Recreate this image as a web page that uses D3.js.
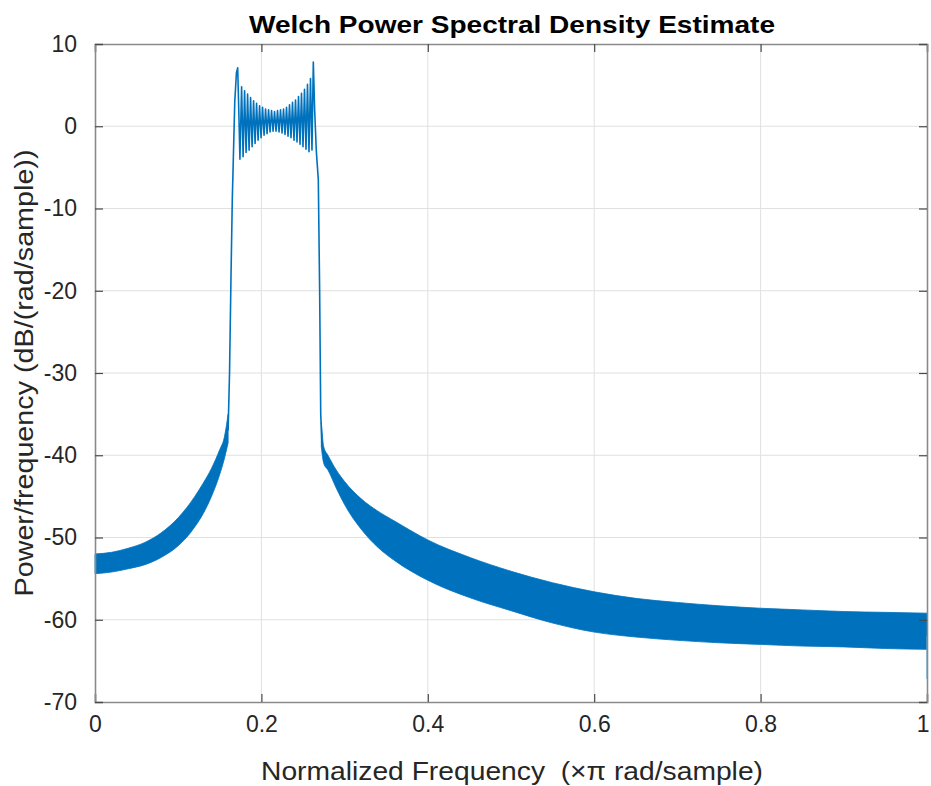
<!DOCTYPE html>
<html>
<head>
<meta charset="utf-8">
<script src="https://cdn.jsdelivr.net/npm/d3@7"></script>
<style>
  html, body { margin: 0; padding: 0; background: #fff; }
  svg { display: block; }
  text { font-family: "Liberation Sans", Arial, Helvetica, sans-serif; }
</style>
</head>
<body>
<svg id="chart" width="931" height="786"></svg>
<script>
// ---- data ----
const xTicks = [0, 0.2, 0.4, 0.6, 0.8, 1];
const xTickLabels = ["0", "0.2", "0.4", "0.6", "0.8", "1"];
const yTicks = [-70, -60, -50, -40, -30, -20, -10, 0, 10];
const yTickLabels = ["-70", "-60", "-50", "-40", "-30", "-20", "-10", "0", "10"];

// lower stopband: envelope of the dense ripple
const leftBandF  = [0, 0.02, 0.04, 0.06, 0.08, 0.10, 0.11, 0.12, 0.13, 0.14, 0.15, 0.155, 0.16];
const leftBandHi = [-52.0, -51.8, -51.3, -50.6, -49.4, -47.6, -46.4, -45.0, -43.4, -41.6, -39.3, -38.0, -35.0];
const leftBandLo = [-54.4, -54.2, -53.8, -53.3, -52.4, -51.0, -50.0, -48.7, -47.1, -45.0, -42.3, -40.6, -38.5];

// upper stopband: envelope of the dense ripple
const rightBandF  = [0.272, 0.275, 0.28, 0.29, 0.30, 0.32, 0.34, 0.36, 0.40, 0.45, 0.50, 0.55, 0.60, 0.65, 0.70, 0.75, 0.80, 0.85, 0.90, 0.95, 1.0];
const rightBandHi = [-36.0, -39.0, -40.0, -41.8, -43.2, -45.3, -46.8, -48.0, -50.3, -52.4, -54.1, -55.5, -56.6, -57.4, -57.9, -58.3, -58.6, -58.8, -59.0, -59.1, -59.2];
const rightBandLo = [-39.0, -41.0, -41.8, -44.0, -46.0, -49.0, -51.2, -52.8, -55.2, -57.3, -58.9, -60.4, -61.5, -62.1, -62.5, -62.8, -63.0, -63.2, -63.3, -63.5, -63.6];

// passband trace (edges + ripple)
const passF = [0.1600, 0.1617, 0.1635, 0.1650, 0.1660, 0.1680, 0.1700, 0.1715, 0.1728, 0.1742,
  0.1762, 0.1780, 0.1798, 0.1816, 0.1834, 0.1852, 0.1870, 0.1888, 0.1906, 0.1924,
  0.1942, 0.1960, 0.1978, 0.1996, 0.2014, 0.2032, 0.2050, 0.2068, 0.2086, 0.2104,
  0.2122, 0.2140, 0.2158, 0.2176, 0.2194, 0.2212, 0.2230, 0.2248, 0.2266, 0.2284,
  0.2302, 0.2320, 0.2338, 0.2356, 0.2374, 0.2392, 0.2410, 0.2428, 0.2446, 0.2464,
  0.2482, 0.2500, 0.2518, 0.2536, 0.2554, 0.2572, 0.2590, 0.2608, 0.2624, 0.2640,
  0.2660, 0.2684, 0.2700, 0.2713, 0.2730];
const passV = [-37.0, -30.0, -18.0, -9.0, -5.0, 3.0, 6.5, 7.1, 2.0, -4.0,
  4.8, -3.7, 4.3, -3.2, 3.9, -2.9, 3.5, -2.5, 3.1, -2.1,
  2.8, -1.7, 2.5, -1.4, 2.3, -1.1, 2.1, -0.9, 2.0, -0.7,
  1.9, -0.6, 1.8, -0.6, 1.9, -0.7, 2.0, -0.8, 2.1, -1.0,
  2.3, -1.2, 2.6, -1.4, 2.9, -1.7, 3.2, -1.9, 3.6, -2.2,
  4.0, -2.5, 4.5, -2.8, 5.1, -3.1, 5.8, -2.9, 7.8, 2.0,
  -3.0, -6.5, -20.0, -35.0, -39.0];

// tail at Nyquist
const tailF = [1.0, 1.0];
const tailV = [-62.0, -67.2];

const titleText = "Welch Power Spectral Density Estimate";
const xLabelText = "Normalized Frequency\u00A0\u00A0(\u00D7\u03C0 rad/sample)";
const yLabelText = "Power/frequency (dB/(rad/sample))";

// ---- layout ----
const margin = { left: 95, right: 931 - 927, top: 44, bottom: 786 - 702 };
const W = 931, H = 786;
const svg = d3.select("#chart");
const x = d3.scaleLinear().domain([0, 1]).range([margin.left, W - margin.right]);
const y = d3.scaleLinear().domain([-70, 10]).range([H - margin.bottom, margin.top]);
const lineColor = "#0072BD";

// grid
const grid = svg.append("g");
grid.selectAll("line.gx").data(xTicks.slice(1, -1)).enter().append("line")
  .attr("x1", d => x(d)).attr("x2", d => x(d))
  .attr("y1", y(-70)).attr("y2", y(10))
  .attr("stroke", "#e0e0e0").attr("stroke-width", 1);
grid.selectAll("line.gy").data(yTicks.slice(1, -1)).enter().append("line")
  .attr("x1", x(0)).attr("x2", x(1))
  .attr("y1", d => y(d)).attr("y2", d => y(d))
  .attr("stroke", "#e0e0e0").attr("stroke-width", 1);

// data
const plot = svg.append("g");
const leftBand = leftBandF.map((f, i) => ({ f, lo: leftBandLo[i], hi: leftBandHi[i] }));
const rightBand = rightBandF.map((f, i) => ({ f, lo: rightBandLo[i], hi: rightBandHi[i] }));
const area = d3.area().curve(d3.curveMonotoneX).x(d => x(d.f)).y0(d => y(d.lo)).y1(d => y(d.hi));
[leftBand, rightBand].forEach(b => {
  plot.append("path").attr("d", area(b))
    .attr("fill", lineColor).attr("stroke", lineColor).attr("stroke-width", 0.8);
});
const line = d3.line().x(d => x(d[0])).y(d => y(d[1]));
plot.append("path").attr("d", line(passF.map((f, i) => [f, passV[i]])))
  .attr("fill", "none").attr("stroke", lineColor).attr("stroke-width", 1.6)
  .attr("stroke-linejoin", "round");
plot.append("path").attr("d", line(tailF.map((f, i) => [f, tailV[i]])))
  .attr("fill", "none").attr("stroke", "#5aa8dc").attr("stroke-width", 1.2);

// axes box
const axisColor = "#262626";
const xAxB = svg.append("g").attr("transform", `translate(0,${y(-70)})`)
  .call(d3.axisBottom(x).tickValues(xTicks).tickSize(-8).tickFormat((d, i) => xTickLabels[i]).tickPadding(14));
const xAxT = svg.append("g").attr("transform", `translate(0,${y(10)})`)
  .call(d3.axisTop(x).tickValues(xTicks).tickSize(-8).tickFormat(""));
const yAxL = svg.append("g").attr("transform", `translate(${x(0)},0)`)
  .call(d3.axisLeft(y).tickValues(yTicks).tickSize(-8).tickFormat((d, i) => yTickLabels[i]).tickPadding(18));
const yAxR = svg.append("g").attr("transform", `translate(${x(1)},0)`)
  .call(d3.axisRight(y).tickValues(yTicks).tickSize(-8).tickFormat(""));
[xAxB, xAxT, yAxL, yAxR].forEach(g => {
  g.select(".domain").attr("stroke", "#8a8a8a").attr("stroke-width", 1.6);
  g.selectAll(".tick line").attr("stroke", "#4a4a4a").attr("stroke-width", 1.2);
  g.selectAll(".tick text").attr("fill", axisColor).attr("font-size", 23)
    .attr("font-family", "'Liberation Sans', Arial, sans-serif");
});
// keep the last x label inside the window
xAxB.selectAll(".tick text").filter((d, i) => i === xTicks.length - 1)
  .attr("text-anchor", "end").attr("dx", 2);

// title & labels
svg.append("text").attr("x", 512).attr("y", 33).attr("text-anchor", "middle")
  .attr("font-size", 24).attr("font-weight", "bold").attr("fill", "#000")
  .attr("textLength", 526).attr("lengthAdjust", "spacingAndGlyphs")
  .text(titleText);
svg.append("text").attr("x", 512).attr("y", 780).attr("text-anchor", "middle")
  .attr("font-size", 25).attr("fill", axisColor)
  .attr("textLength", 502).attr("lengthAdjust", "spacingAndGlyphs")
  .text(xLabelText);
svg.append("text").attr("transform", "translate(33,373) rotate(-90)").attr("text-anchor", "middle")
  .attr("font-size", 25).attr("fill", axisColor)
  .attr("textLength", 447).attr("lengthAdjust", "spacingAndGlyphs")
  .text(yLabelText);
</script>
</body>
</html>
